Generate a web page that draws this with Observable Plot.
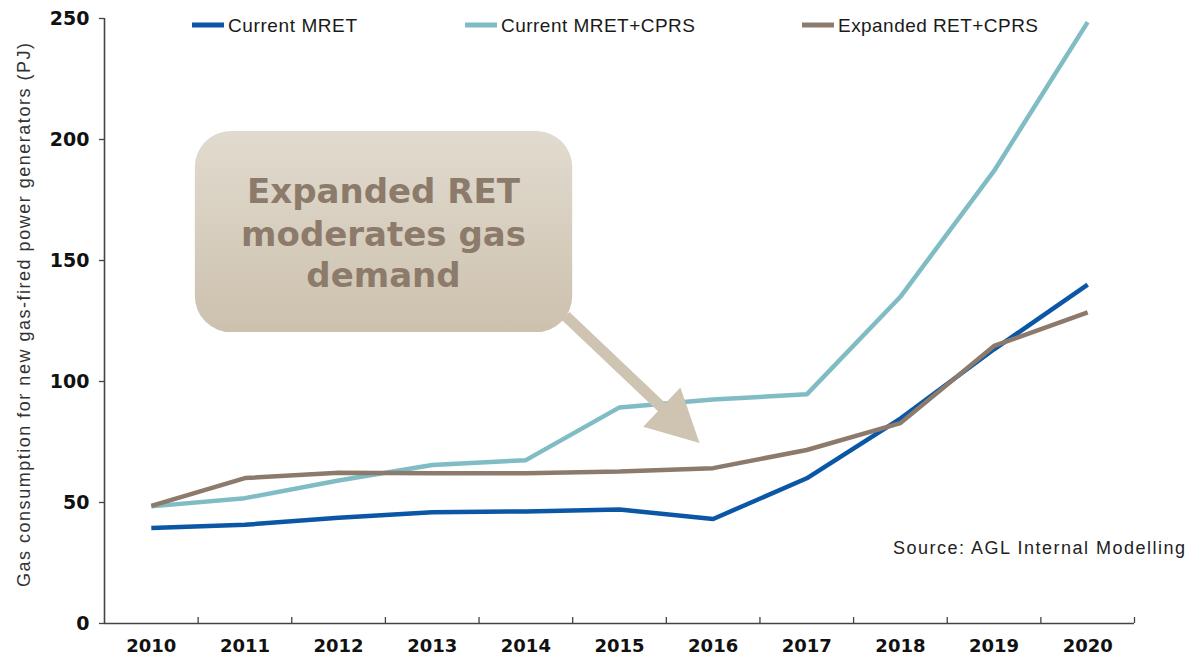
<!DOCTYPE html>
<html>
<head>
<meta charset="utf-8">
<script src="https://cdn.jsdelivr.net/npm/d3@7"></script>
<script src="https://cdn.jsdelivr.net/npm/@observablehq/plot@0.6"></script>
<style>
  html, body { margin: 0; padding: 0; background: #fff; overflow: hidden; }
  #chart { position: relative; width: 1189px; height: 659px; }
</style>
</head>
<body>
<div id="chart"></div>
<script>
// ---- Data ----
const years = [2010, 2011, 2012, 2013, 2014, 2015, 2016, 2017, 2018, 2019, 2020];
const seriesNames = ["Current MRET", "Current MRET+CPRS", "Expanded RET+CPRS"];
const currentMRET      = [39.5, 40.8, 43.7, 46.0, 46.3, 47.1, 43.2, 60.0, 84.7, 113.3, 140.0];
const currentMRETCPRS  = [48.4, 51.8, 59.1, 65.5, 67.5, 89.3, 92.6, 94.7, 135.0, 187.0, 248.5];
const expandedRETCPRS  = [48.6, 60.1, 62.3, 62.1, 62.1, 62.8, 64.2, 71.7, 82.8, 114.7, 128.6];
const yTicks = [0, 50, 100, 150, 200, 250];
const seriesColors = ["#0B57A6", "#80BCC4", "#8C7B6C"];
const yTitle = "Gas consumption for new gas-fired power generators (PJ)";
const sourceNote = "Source: AGL Internal Modelling";
const calloutLines = ["Expanded RET", "moderates gas", "demand"];
// callout anchors in data units (year, PJ)
const calloutBox = {x1: 2010.47, x2: 2014.5, y1: 120.2, y2: 203.3};
const calloutArrow = {fromX: 2014.43, fromY: 126.9, toX: 2015.86, toY: 74.4};

// ---- Table ----
const seriesValues = [currentMRET, currentMRETCPRS, expandedRETCPRS];
const table = [];
seriesNames.forEach((name, i) => {
  years.forEach((yr, j) => table.push({series: name, year: yr, value: seriesValues[i][j]}));
});
const boundaries = years.map(y => y + 0.5);

const chart = Plot.plot({
  width: 1189,
  height: 659,
  marginLeft: 104,
  marginRight: 55,
  marginTop: 18,
  marginBottom: 36,
  style: {fontFamily: "DejaVu Sans", color: "#111", background: "#fff"},
  x: {type: "linear", domain: [years[0] - 0.5, years[years.length - 1] + 0.5]},
  y: {domain: [0, 250]},
  color: {domain: seriesNames, range: seriesColors},
  marks: [
    Plot.axisY({ticks: yTicks, tickSize: 5, tickPadding: 10, label: null,
      fontWeight: "bold", fontSize: 19, stroke: "#444", strokeWidth: 1.3}),
    Plot.axisX({ticks: years, tickSize: 0, tickPadding: 16, label: null,
      tickFormat: d => String(d), fontWeight: "bold", fontSize: 18}),
    Plot.tickX(boundaries, {x: d => d, insetTop: 599, stroke: "#444", strokeWidth: 1.3}),
    Plot.ruleY([0], {stroke: "#444", strokeWidth: 1.6}),
    Plot.ruleX([years[0] - 0.5], {stroke: "#444", strokeWidth: 1.6}),
    Plot.lineY(table, {x: "year", y: "value", z: "series", stroke: "series",
      strokeWidth: 4.5, strokeLinejoin: "miter", strokeLinecap: "butt"})
  ]
});

document.getElementById("chart").appendChild(chart);

// ---- Annotations / legend drawn with scales ----
const sx = chart.scale("x"), sy = chart.scale("y");
const svg = d3.select(chart);

// gradient
const defs = svg.append("defs");
const grad = defs.append("linearGradient").attr("id", "calloutGrad")
  .attr("x1", 0).attr("y1", 0).attr("x2", 0).attr("y2", 1);
grad.append("stop").attr("offset", "0%").attr("stop-color", "#E1DBCF");
grad.append("stop").attr("offset", "100%").attr("stop-color", "#CDC1AE");

// arrow
const ax0 = sx.apply(calloutArrow.fromX), ay0 = sy.apply(calloutArrow.fromY);
const ax1 = sx.apply(calloutArrow.toX), ay1 = sy.apply(calloutArrow.toY);
const dx = ax1 - ax0, dy = ay1 - ay0, len = Math.hypot(dx, dy);
const ux = dx / len, uy = dy / len, nx = -uy, ny = ux;
const headLen = 52, headHalf = 27;
const bx = ax1 - ux * headLen, by = ay1 - uy * headLen;
svg.append("line")
  .attr("x1", ax0).attr("y1", ay0).attr("x2", bx + ux * 4).attr("y2", by + uy * 4)
  .attr("stroke", "#CFC3B1").attr("stroke-width", 11);
svg.append("polygon")
  .attr("points", [[ax1, ay1], [bx + nx * headHalf, by + ny * headHalf], [bx - nx * headHalf, by - ny * headHalf]].map(p => p.join(",")).join(" "))
  .attr("fill", "#CFC3B1");

// box
const bx1 = sx.apply(calloutBox.x1), bx2 = sx.apply(calloutBox.x2);
const by1 = sy.apply(calloutBox.y2), by2 = sy.apply(calloutBox.y1);
svg.append("rect")
  .attr("x", bx1).attr("y", by1).attr("width", bx2 - bx1).attr("height", by2 - by1)
  .attr("rx", 36).attr("ry", 36).attr("fill", "url(#calloutGrad)");
const cx = (bx1 + bx2) / 2;
const baselines = [203, 246, 287];
calloutLines.forEach((t, i) => {
  svg.append("text").attr("x", cx).attr("y", by1 + (baselines[i] - 131))
    .attr("text-anchor", "middle").attr("font-family", "DejaVu Sans").attr("font-weight", "bold")
    .attr("font-size", 34).attr("fill", "#8C7A6A").text(t);
});

// legend
const legendX = [192, 465, 802];
const legendW = [129, 194, 200];
seriesNames.forEach((name, i) => {
  const g = svg.append("g");
  g.append("line").attr("x1", legendX[i]).attr("x2", legendX[i] + 32)
    .attr("y1", 25).attr("y2", 25).attr("stroke", seriesColors[i]).attr("stroke-width", 5);
  g.append("text").attr("x", legendX[i] + 36).attr("y", 32)
    .attr("text-anchor", "start")
    .attr("font-family", "Liberation Sans").attr("font-size", 19).attr("fill", "#1a1a1a")
    .attr("textLength", legendW[i]).attr("lengthAdjust", "spacing").text(name);
});

// y title
svg.append("text")
  .attr("transform", "translate(30,587) rotate(-90)")
  .attr("text-anchor", "start")
  .attr("font-family", "Liberation Sans").attr("font-size", 18).attr("fill", "#333")
  .attr("textLength", 544).attr("lengthAdjust", "spacing")
  .text(yTitle);

// source
svg.append("text")
  .attr("x", 893).attr("y", 554)
  .attr("text-anchor", "start")
  .attr("font-family", "Liberation Sans").attr("font-size", 18).attr("fill", "#222")
  .attr("textLength", 292).attr("lengthAdjust", "spacing")
  .text(sourceNote);
</script>
</body>
</html>
